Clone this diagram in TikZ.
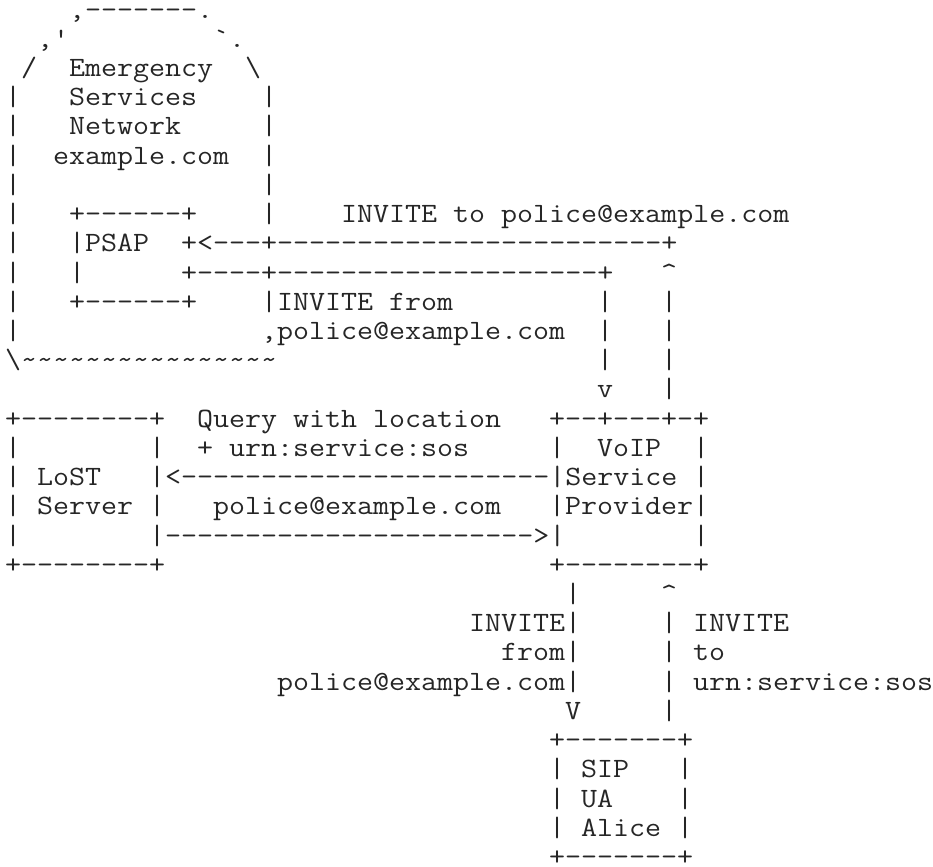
\documentclass[tikz,border=0pt]{standalone}
\usepackage{fontspec}
\setmonofont[FakeStretch=1.112]{Latin Modern Mono}
\tikzset{asciitext/.style={anchor=base west,inner sep=0pt,outer sep=0pt,font=\ttfamily\fontsize{27.96bp}{30bp}\selectfont,text=black!85}}
\newcommand{\asc}[3]{\node[asciitext] (r#2c#1) at ({5+16*#1},{-(76.5+29.22*(#2-3))}) {#3};}
\begin{document}
\begin{tikzpicture}[x=1bp,y=1bp]
\fill[white] (0,0) rectangle (933,-867);
\useasboundingbox (0,0) rectangle (933,-867);
\asc{4}{1}{,-------.}
\asc{2}{2}{,'}
\asc{13}{2}{`.}
\asc{1}{3}{/}
\asc{4}{3}{Emergency}
\asc{15}{3}{\textbackslash}
\asc{0}{4}{|}
\asc{4}{4}{Services}
\asc{16}{4}{|}
\asc{0}{5}{|}
\asc{4}{5}{Network}
\asc{16}{5}{|}
\asc{0}{6}{|}
\asc{3}{6}{example.com}
\asc{16}{6}{|}
\asc{0}{7}{|}
\asc{16}{7}{|}
\asc{0}{8}{|}
\asc{4}{8}{+------+}
\asc{16}{8}{|}
\asc{21}{8}{INVITE to police@example.com}
\asc{0}{9}{|}
\asc{4}{9}{|PSAP}
\asc{11}{9}{+<---+------------------------+}
\asc{0}{10}{|}
\asc{4}{10}{|}
\asc{11}{10}{+----+--------------------+}
\asc{41}{10}{\textasciicircum}
\asc{0}{11}{|}
\asc{4}{11}{+------+}
\asc{16}{11}{|INVITE from}
\asc{37}{11}{|}
\asc{41}{11}{|}
\asc{0}{12}{|}
\asc{16}{12}{,police@example.com}
\asc{37}{12}{|}
\asc{41}{12}{|}
\asc{0}{13}{\textbackslash\textasciitilde\textasciitilde\textasciitilde\textasciitilde\textasciitilde\textasciitilde\textasciitilde\textasciitilde\textasciitilde\textasciitilde\textasciitilde\textasciitilde\textasciitilde\textasciitilde\textasciitilde\textasciitilde}
\asc{37}{13}{|}
\asc{41}{13}{|}
\asc{37}{14}{v}
\asc{41}{14}{|}
\asc{0}{15}{+--------+}
\asc{12}{15}{Query with location}
\asc{34}{15}{+--+---+-+}
\asc{0}{16}{|}
\asc{9}{16}{|}
\asc{12}{16}{+ urn:service:sos}
\asc{34}{16}{|}
\asc{37}{16}{VoIP}
\asc{43}{16}{|}
\asc{0}{17}{|}
\asc{2}{17}{LoST}
\asc{9}{17}{|<-----------------------|Service}
\asc{43}{17}{|}
\asc{0}{18}{|}
\asc{2}{18}{Server}
\asc{9}{18}{|}
\asc{13}{18}{police@example.com}
\asc{34}{18}{|Provider|}
\asc{0}{19}{|}
\asc{9}{19}{|----------------------->|}
\asc{43}{19}{|}
\asc{0}{20}{+--------+}
\asc{34}{20}{+--------+}
\asc{35}{21}{|}
\asc{41}{21}{\textasciicircum}
\asc{29}{22}{INVITE|}
\asc{41}{22}{|}
\asc{43}{22}{INVITE}
\asc{31}{23}{from|}
\asc{41}{23}{|}
\asc{43}{23}{to}
\asc{17}{24}{police@example.com|}
\asc{41}{24}{|}
\asc{43}{24}{urn:service:sos}
\asc{35}{25}{V}
\asc{41}{25}{|}
\asc{34}{26}{+-------+}
\asc{34}{27}{|}
\asc{36}{27}{SIP}
\asc{42}{27}{|}
\asc{34}{28}{|}
\asc{36}{28}{UA}
\asc{42}{28}{|}
\asc{34}{29}{|}
\asc{36}{29}{Alice}
\asc{42}{29}{|}
\asc{34}{30}{+-------+}
\end{tikzpicture}
\end{document}
